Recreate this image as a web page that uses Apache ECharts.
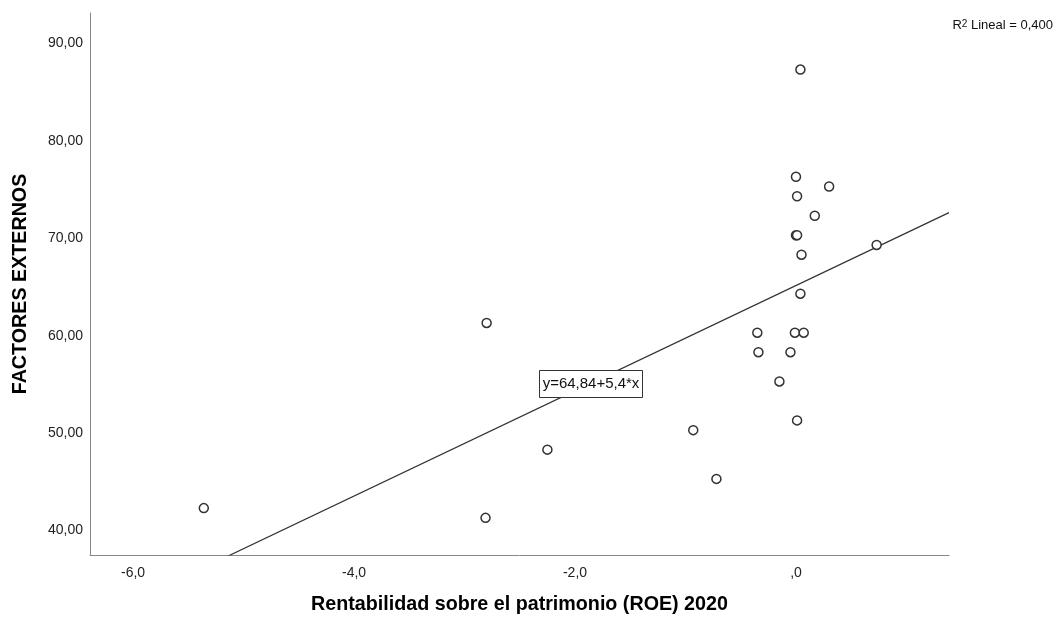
<!DOCTYPE html>
<html>
<head>
<meta charset="utf-8">
<script src="https://cdn.jsdelivr.net/npm/echarts@6/dist/echarts.min.js"></script>
<style>html,body{margin:0;padding:0;background:#fff}#c{width:1056px;height:618px}</style>
</head>
<body>
<div id="c"></div>
<script>
// ROE 2020 (x) and FACTORES EXTERNOS (y)
var roe = [-5.36, -2.80, -2.81, -2.25, -0.93, -0.72, -0.35, -0.34, -0.15, -0.05, -0.01, 0.07, 0.01, 0.04, 0.05, 0.00, 0.01, 0.01, 0.00, 0.04, 0.17, 0.30, 0.73];
var factores = [42, 61, 41, 48, 50, 45, 60, 58, 55, 58, 60, 60, 51, 64, 68, 70, 70, 74, 76, 87, 72, 75, 69];
var xTicks = [-6, -4, -2, 0];
var yTicks = [40, 50, 60, 70, 80, 90];
var xRange = [-6.39, 1.385];
var yRange = [37.19, 92.8];
var fitIntercept = 64.84;
var fitSlope = 5.4;
var fitLabel = 'y=64,84+5,4*x';
var r2Label = '0,400';
var xName = 'Rentabilidad sobre el patrimonio (ROE) 2020';
var yName = 'FACTORES EXTERNOS';

var points = roe.map(function (v, i) { return [v, factores[i]]; });
var fitLine = xRange.map(function (x) { return [x, fitIntercept + fitSlope * x]; });

function fmtX(v) {
  var s = Number(v).toFixed(1).replace('.', ',');
  if (s === '0,0') s = ',0';
  return s;
}
function fmtY(v) { return Number(v).toFixed(2).replace('.', ','); }

var font = '"Liberation Sans", Arial, sans-serif';
var chart = echarts.init(document.getElementById('c'), null, { renderer: 'canvas' });
chart.setOption({
  animation: false,
  backgroundColor: '#fff',
  grid: { left: 90, right: 107, top: 13, bottom: 63, containLabel: false, outerBoundsMode: 'none' },
  xAxis: {
    type: 'value', min: xRange[0], max: xRange[1],
    name: xName, nameLocation: 'middle', nameGap: 40,
    nameTextStyle: { fontFamily: font, fontSize: 19.7, lineHeight: 20, fontWeight: 'bold', color: '#000' },
    axisLine: { show: true, onZero: false, lineStyle: { color: '#888', width: 1 } },
    axisTick: { show: false },
    splitLine: { show: false },
    axisLabel: { customValues: xTicks, formatter: fmtX, margin: 11, fontFamily: font, fontSize: 14, color: '#222' }
  },
  yAxis: {
    type: 'value', min: yRange[0], max: yRange[1],
    name: yName, nameLocation: 'middle', nameGap: 59, nameRotate: 90,
    nameTextStyle: { fontFamily: font, fontSize: 19.7, fontWeight: 'bold', color: '#000' },
    axisLine: { show: true, onZero: false, lineStyle: { color: '#888', width: 1 } },
    axisTick: { show: false },
    splitLine: { show: false },
    axisLabel: { customValues: yTicks, formatter: fmtY, margin: 7, verticalAlign: 'top', lineHeight: 6, fontFamily: font, fontSize: 14, color: '#222' }
  },
  series: [
    {
      type: 'line', data: fitLine, symbol: 'none', clip: true, silent: true,
      lineStyle: { color: '#333', width: 1.2 }, z: 2
    },
    {
      type: 'scatter', data: points, symbol: 'circle', symbolSize: 9,
      itemStyle: { color: '#fff', borderColor: '#333', borderWidth: 1.5, opacity: 1 }, z: 3
    }
  ],
  graphic: [
    {
      type: 'group', left: 539, top: 370, z: 100, zlevel: 1,
      children: [
        { type: 'rect', z: 100, shape: { x: 0, y: 0, width: 103, height: 27 },
          style: { fill: '#fff', stroke: '#333', lineWidth: 1 } },
        { type: 'text', z: 101, x: 51.5, y: 13.5,
          style: { text: fitLabel, fontFamily: font, fontSize: 15, fill: '#111', align: 'center', verticalAlign: 'middle' } }
      ]
    },
    {
      type: 'text', right: 3, top: 19, z: 10,
      style: {
        text: '{r|R}{s|2}{r| Lineal = ' + r2Label + '}',
        fontFamily: font,
        rich: {
          r: { fontFamily: font, fontSize: 13, fill: '#111', verticalAlign: 'bottom' },
          s: { fontFamily: font, fontSize: 10, fill: '#111', verticalAlign: 'top' }
        }
      }
    }
  ]
});
</script>
</body>
</html>
